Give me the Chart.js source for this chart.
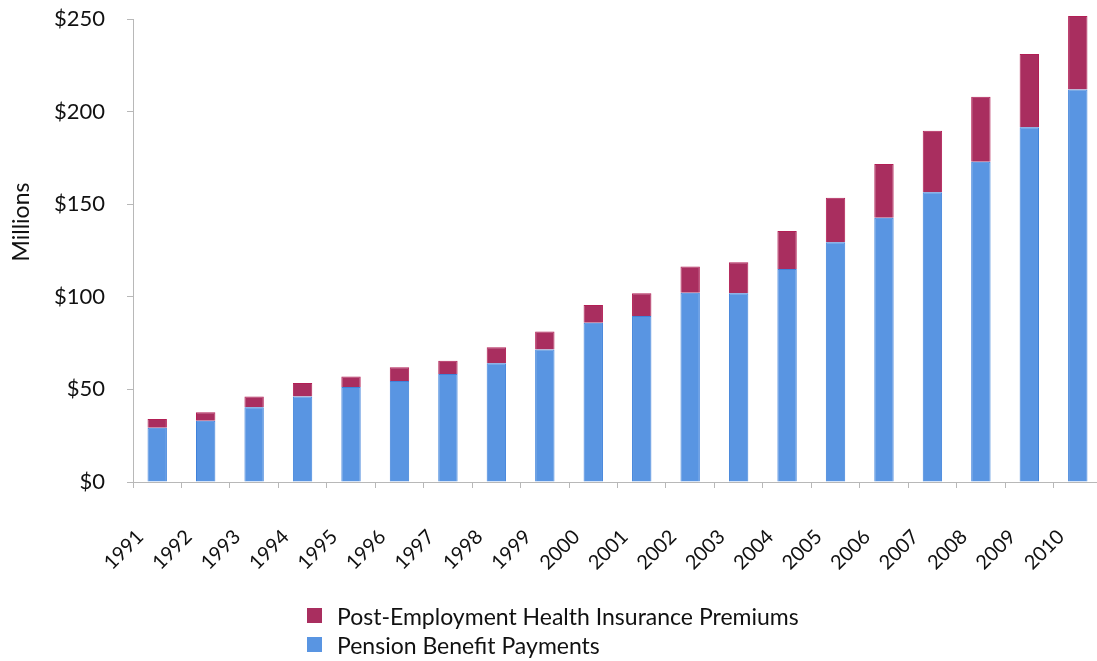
<!DOCTYPE html>
<html>
<head>
<meta charset="utf-8">
<script src="https://cdn.jsdelivr.net/npm/chart.js@4/dist/chart.umd.min.js"></script>
<style>
  html, body { margin: 0; padding: 0; background: #fff; overflow: hidden; }
  #wrap { position: relative; width: 1103px; height: 661px; }
  #legend { position: absolute; left: 307px; top: 601px; font-family: Lato, "DejaVu Sans", sans-serif; font-size: 23px; color: #111; }
  .item { display: flex; align-items: center; height: 29px; }
  .box { width: 15px; height: 15px; margin-right: 15px; }
</style>
</head>
<body>
<div id="wrap">
  <canvas id="chart" width="1103" height="661"></canvas>
  <div id="legend"></div>
</div>
<script>
// Annual payments, millions of dollars
const years = ['1991','1992','1993','1994','1995','1996','1997','1998','1999','2000',
               '2001','2002','2003','2004','2005','2006','2007','2008','2009','2010'];
const pensionPayments = [29.3, 33.1, 40.3, 46.1, 51.3, 54.5, 58.3, 64.1, 71.6, 86.0,
                         89.6, 102.2, 101.9, 115.0, 129.4, 142.7, 156.4, 172.9, 191.5, 212.0];
const healthPremiums = [4.7, 4.5, 5.9, 7.3, 5.7, 7.4, 7.2, 8.6, 9.6, 9.6,
                        12.3, 14.1, 16.7, 20.5, 24.1, 29.0, 33.3, 35.1, 39.6, 39.6];
const yTicks = [0, 50, 100, 150, 200, 250];
const yTitle = 'Millions';

const FONT = 'Lato, "DejaVu Sans", sans-serif';
const INK = '#111';
const AXIS = '#b8b8b8';

const datasets = [
  {
    label: 'Pension Benefit Payments',
    data: pensionPayments,
    backgroundColor: '#5995e2',
    borderColor: '#3f82da',
    borderWidth: 1,
    clip: false
  },
  {
    label: 'Post-Employment Health Insurance Premiums',
    data: healthPremiums,
    backgroundColor: '#a92e5f',
    borderColor: '#b21f55',
    borderWidth: 1,
    clip: false
  }
];

// Vertical axis caption, placed above the axis midpoint
const axisCaption = {
  id: 'axisCaption',
  afterDraw(chart) {
    const ctx = chart.ctx;
    ctx.save();
    ctx.translate(22, 222);
    ctx.rotate(-Math.PI / 2);
    ctx.fillStyle = INK;
    ctx.font = '23px ' + FONT;
    ctx.textAlign = 'center';
    ctx.textBaseline = 'middle';
    ctx.fillText(yTitle, 0, 0);
    ctx.restore();
  }
};

const chart = new Chart(document.getElementById('chart'), {
  type: 'bar',
  data: { labels: years, datasets },
  plugins: [axisCaption],
  options: {
    responsive: false,
    animation: false,
    layout: { padding: { top: 19, left: 0, right: 1, bottom: 0 } },
    datasets: { bar: { categoryPercentage: 1.0, barPercentage: 0.4 } },
    plugins: { legend: { display: false }, tooltip: { enabled: false } },
    scales: {
      x: {
        stacked: true,
        offset: true,
        grid: { display: true, drawOnChartArea: false, drawTicks: true, tickLength: 6, color: AXIS, offset: true },
        border: { color: AXIS },
        ticks: {
          color: INK, font: { family: FONT, size: 20 },
          minRotation: 45, maxRotation: 45, padding: 37, labelOffset: -17, autoSkip: false
        },
        afterFit(scale) {
          scale.height = 661 - 482;
          scale.paddingLeft = 0;
          scale.paddingRight = 0;
        }
      },
      y: {
        stacked: true,
        min: 0, max: 250,
        afterBuildTicks(scale) { scale.ticks = yTicks.map(v => ({ value: v })); },
        grid: { display: true, drawOnChartArea: false, drawTicks: true, tickLength: 6, color: AXIS },
        border: { color: AXIS },
        ticks: {
          color: INK, font: { family: FONT, size: 22 }, padding: 22,
          callback: v => '$' + v
        },
        afterFit(scale) {
          scale.width = 133;
          scale.paddingTop = 0;
          scale.paddingBottom = 0;
        }
      }
    }
  }
});

// Legend listed top-down in reverse stacking order
const legend = document.getElementById('legend');
chart.data.datasets.slice().reverse().forEach(ds => {
  const row = document.createElement('div');
  row.className = 'item';
  const box = document.createElement('span');
  box.className = 'box';
  box.style.background = ds.backgroundColor;
  const txt = document.createElement('span');
  txt.textContent = ds.label;
  row.appendChild(box);
  row.appendChild(txt);
  legend.appendChild(row);
});
</script>
</body>
</html>
